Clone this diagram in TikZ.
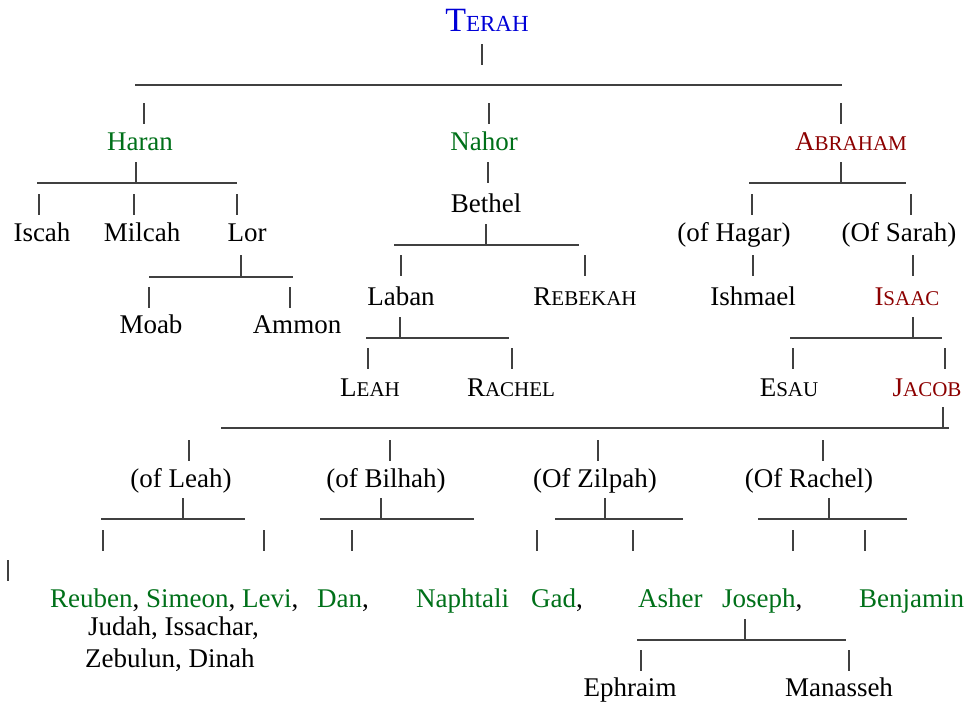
\documentclass[tikz,border=0pt]{standalone}
\usepackage{fontspec}
\setmainfont{Liberation Serif}
\usepackage{xcolor}
\definecolor{kin}{RGB}{0,112,25}
\definecolor{heir}{RGB}{140,0,0}
\definecolor{root}{RGB}{0,0,215}
\newcommand{\smc}[2]{#1{\fontsize{21}{24}\selectfont #2}}

\begin{document}
\begin{tikzpicture}[x=1pt,y=-1pt,
        person/.style={anchor=base,inner sep=0pt,font=\fontsize{27}{32}\selectfont},
        personw/.style={person,anchor=base west},
        bar/.style={black!75,line width=1.1pt},
        rule/.style={black!75,line width=1.1pt}]
        \useasboundingbox (0,0) rectangle (974,702);
        \node[person,text=root,font=\fontsize{34}{40}\selectfont] (terah) at (487,31) {T{\fontsize{23}{26}\selectfont ERAH}};
        \node[person,text=kin] (haran) at (140,150) {Haran};
        \node[person,text=kin] (nahor) at (484,150) {Nahor};
        \node[person,text=heir] (abraham) at (851,150) {\smc{A}{BRAHAM}};
        \node[person] (iscah) at (42,241) {Iscah};
        \node[person] (milcah) at (142,241) {Milcah};
        \node[person] (lor) at (247,241) {Lor};
        \node[person] (bethel) at (486,212) {Bethel};
        \node[person] (hagar) at (734,241) {(of Hagar)};
        \node[person] (sarah) at (899,241) {(Of Sarah)};
        \node[person] (laban) at (401,305) {Laban};
        \node[person] (rebekah) at (585,305) {\smc{R}{EBEKAH}};
        \node[person] (ishmael) at (753,305) {Ishmael};
        \node[person,text=heir] (isaac) at (907,305) {\smc{I}{SAAC}};
        \node[person] (moab) at (151,333) {Moab};
        \node[person] (ammon) at (297,333) {Ammon};
        \node[person] (leah) at (370,396) {\smc{L}{EAH}};
        \node[person] (rachel) at (511,396) {\smc{R}{ACHEL}};
        \node[person] (esau) at (789,396) {\smc{E}{SAU}};
        \node[person,text=heir] (jacob) at (927,396) {\smc{J}{ACOB}};
        \node[person] (ofleah) at (181,487) {(of Leah)};
        \node[person] (ofbilhah) at (386,487) {(of Bilhah)};
        \node[person] (ofzilpah) at (595,487) {(Of Zilpah)};
        \node[person] (ofrachel) at (809,487) {(Of Rachel)};
        \node[personw] (leahsons) at (50,607) {\textcolor{kin}{Reuben}, \textcolor{kin}{Simeon}, \textcolor{kin}{Levi},};
        \node[personw] (leahsonsb) at (88,635) {Judah, Issachar,};
        \node[personw] (leahsonsc) at (85,667) {Zebulun, Dinah};
        \node[personw] (dan) at (317,607) {\textcolor{kin}{Dan},};
        \node[personw,text=kin] (naphtali) at (416,607) {Naphtali};
        \node[personw] (gad) at (531,607) {\textcolor{kin}{Gad},};
        \node[personw,text=kin] (asher) at (638,607) {Asher};
        \node[personw] (joseph) at (722,607) {\textcolor{kin}{Joseph},};
        \node[personw,text=kin] (benjamin) at (859,607) {Benjamin};
        \node[person] (ephraim) at (630,696) {Ephraim};
        \node[person] (manasseh) at (839,696) {Manasseh};
        \coordinate (terah-l) at (135,85);   \coordinate (terah-r) at (842,85);
        \coordinate (haran-l) at (37,183);   \coordinate (haran-r) at (237,183);
        \coordinate (abraham-l) at (749,183); \coordinate (abraham-r) at (906,183);
        \coordinate (bethel-l) at (394,245); \coordinate (bethel-r) at (579,245);
        \coordinate (lor-l) at (149,277);    \coordinate (lor-r) at (293,277);
        \coordinate (laban-l) at (366,338);  \coordinate (laban-r) at (509,338);
        \coordinate (isaac-l) at (790,338);  \coordinate (isaac-r) at (942,338);
        \coordinate (jacob-l) at (221,428);  \coordinate (jacob-r) at (949,428);
        \coordinate (ofleah-l) at (101,519); \coordinate (ofleah-r) at (245,519);
        \coordinate (ofbilhah-l) at (320,519); \coordinate (ofbilhah-r) at (474,519);
        \coordinate (ofzilpah-l) at (555,519); \coordinate (ofzilpah-r) at (683,519);
        \coordinate (ofrachel-l) at (758,519); \coordinate (ofrachel-r) at (907,519);
        \coordinate (joseph-l) at (637,640); \coordinate (joseph-r) at (846,640);
        \foreach \a in {terah,haran,abraham,bethel,lor,laban,isaac,jacob,ofleah,ofbilhah,ofzilpah,ofrachel,joseph}
                \draw[rule] (\a-l) -- (\a-r);
        \foreach \x/\y in {482/44, 144/103, 489/103, 841/103, 136/162, 488/162, 841/162,
                39/194, 134/194, 237/194, 752/194, 911/194, 486/224,
                241/255, 401/255, 585/255, 753/255, 913/255, 149/287, 290/287,
                400/317, 913/317, 368/348, 512/348, 793/348, 945/348, 943/407,
                189/440, 390/440, 598/440, 823/440, 183/498, 381/498, 605/498, 829/498,
                103/530, 264/530, 352/530, 537/530, 633/530, 793/530, 865/530, 8/560,
                745/619, 641/650, 849/650}
                \draw[bar] (\x,\y) -- ++(0,21);
\end{tikzpicture}
\end{document}
